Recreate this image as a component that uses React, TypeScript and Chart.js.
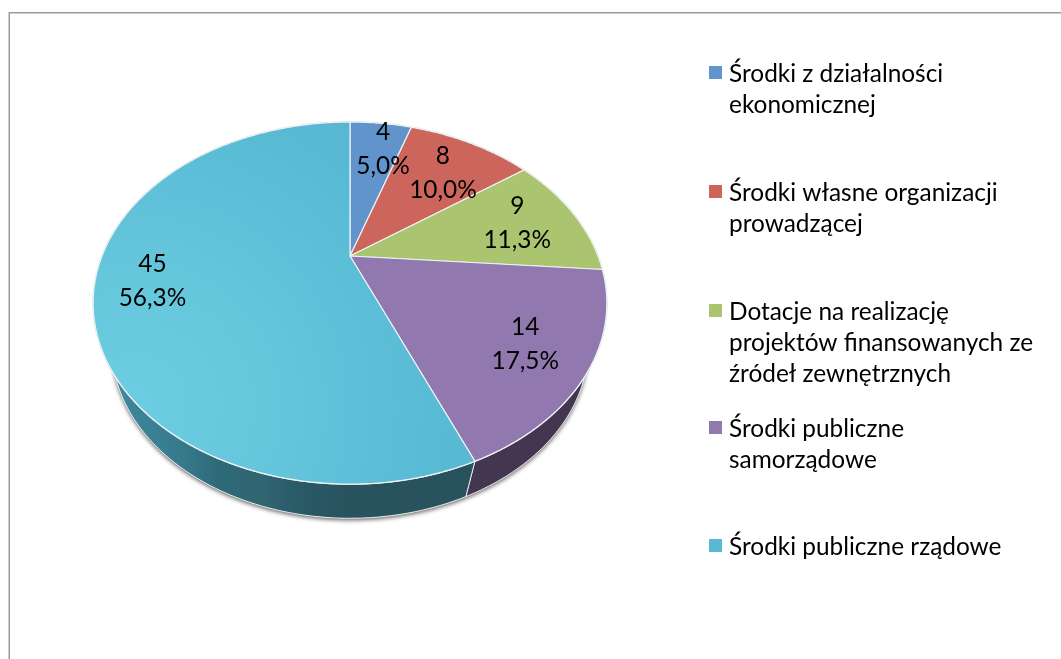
import React, { useEffect, useRef } from "react";
import { Chart, registerables } from "chart.js";

Chart.register(...registerables);

const categories = [
  "Środki z działalności ekonomicznej",
  "Środki własne organizacji prowadzącej",
  "Dotacje na realizację projektów finansowanych ze źródeł zewnętrznych",
  "Środki publiczne samorządowe",
  "Środki publiczne rządowe",
];
const legendLines = [
  ["Środki z działalności", "ekonomicznej"],
  ["Środki własne organizacji", "prowadzącej"],
  ["Dotacje na realizację", "projektów finansowanych ze", "źródeł zewnętrznych"],
  ["Środki publiczne", "samorządowe"],
  ["Środki publiczne rządowe"],
];
const values = [4, 8, 9, 14, 45];
const colors = ["#6094cb", "#cc665c", "#abc46f", "#9178af", "#58b9d3"];
const wallColors = ["#36506f", "#763a35", "#64723f", "#443650", "#28525e"];
const legendRowY = [73, 192, 311, 428, 546];
const labelNudge = [
  [10, -8],
  [4, 0],
  [8, -2],
  [18, 10],
  [-21, 1],
];

const FONT = "Lato, Carlito, Calibri, sans-serif";
const PERSPECTIVE = -0.26;
const TOP = { sx: 248 / 256, sy: 168.8 / 256, dy: 0 };
const BOTTOM = { sx: 230 / 256, sy: 160 / 256, dy: 46 };

type Face = { sx: number; sy: number; dy: number };

function project(el: any, angle: number, r: number, face: Face) {
  const ux = Math.cos(angle) * r;
  const uy = Math.sin(angle) * r;
  const d = 1 + PERSPECTIVE * uy;
  return {
    x: el.x + (el.outerRadius * face.sx * ux) / d,
    y: el.y + face.dy + (el.outerRadius * face.sy * uy) / d,
  };
}

function traceRim(ctx: CanvasRenderingContext2D, el: any, a0: number, a1: number, face: Face, first: boolean) {
  const n = Math.max(2, Math.ceil(Math.abs(a1 - a0) / 0.01));
  for (let i = 0; i <= n; i++) {
    const p = project(el, a0 + ((a1 - a0) * i) / n, 1, face);
    if (i === 0 && first) ctx.moveTo(p.x, p.y);
    else ctx.lineTo(p.x, p.y);
  }
}

const pie3d = {
  id: "pie3d",
  beforeDatasetDraw(chart: any) {
    const ctx: CanvasRenderingContext2D = chart.ctx;
    const arcs = chart.getDatasetMeta(0).data;
    const start = arcs[0].startAngle;
    const end = arcs[arcs.length - 1].endAngle;

    ctx.save();
    ctx.shadowColor = "rgba(0,0,0,0.6)";
    ctx.shadowBlur = 4;
    ctx.shadowOffsetY = 2;
    ctx.fillStyle = "#ffffff";
    ctx.beginPath();
    traceRim(ctx, arcs[0], start, end, BOTTOM, true);
    ctx.closePath();
    ctx.fill();
    ctx.restore();

    arcs.forEach((el: any, i: number) => {
      const a0 = el.startAngle;
      const a1 = el.endAngle;
      ctx.beginPath();
      traceRim(ctx, el, a0, a1, TOP, true);
      traceRim(ctx, el, a1, a0, BOTTOM, false);
      ctx.closePath();
      if (i === arcs.length - 1) {
        const g = ctx.createLinearGradient(el.x - 240, 0, el.x, 0);
        g.addColorStop(0, "#41899e");
        g.addColorStop(0.3, "#367a8c");
        g.addColorStop(0.45, "#2e6a78");
        g.addColorStop(0.62, "#306672");
        g.addColorStop(0.8, "#295a66");
        g.addColorStop(1, "#28525e");
        ctx.fillStyle = g;
      } else {
        ctx.fillStyle = wallColors[i];
      }
      ctx.fill();
      ctx.strokeStyle = "rgba(255,255,255,0.8)";
      ctx.lineWidth = 1;
      ctx.stroke();
    });

    ctx.save();
    ctx.strokeStyle = "#d6d6d6";
    ctx.lineWidth = 1.5;
    ctx.beginPath();
    traceRim(ctx, arcs[0], start, end, TOP, true);
    ctx.closePath();
    ctx.stroke();
    ctx.restore();

    arcs.forEach((el: any, i: number) => {
      ctx.beginPath();
      ctx.moveTo(el.x, el.y);
      traceRim(ctx, el, el.startAngle, el.endAngle, TOP, false);
      ctx.closePath();
      if (i === arcs.length - 1) {
        const g = ctx.createRadialGradient(el.x - 215, el.y + 150, 10, el.x - 215, el.y + 150, 420);
        g.addColorStop(0, "#6ccce1");
        g.addColorStop(0.3, "#66c6dc");
        g.addColorStop(0.5, "#5fc0d9");
        g.addColorStop(0.72, "#59bad4");
        g.addColorStop(1, "#58b3cb");
        ctx.fillStyle = g;
      } else {
        ctx.fillStyle = colors[i];
      }
      ctx.fill();
      ctx.strokeStyle = "#eef3f5";
      ctx.lineWidth = 1.2;
      ctx.stroke();
    });
    return false;
  },
  afterDraw(chart: any) {
    const ctx: CanvasRenderingContext2D = chart.ctx;
    const arcs = chart.getDatasetMeta(0).data;
    const total = values.reduce((s, v) => s + v, 0);
    ctx.save();
    ctx.fillStyle = "#000000";
    ctx.font = `24.4px ${FONT}`;
    ctx.textAlign = "center";
    ctx.textBaseline = "middle";
    arcs.forEach((el: any, i: number) => {
      const p = project(el, (el.startAngle + el.endAngle) / 2, 0.7, TOP);
      const cx = p.x + labelNudge[i][0];
      const cy = p.y + labelNudge[i][1];
      const pct = ((values[i] / total) * 100).toFixed(1).replace(".", ",") + "%";
      ctx.fillText(String(values[i]), cx, cy - 17);
      ctx.fillText(pct, cx, cy + 17);
    });

    ctx.textAlign = "left";
    legendLines.forEach((lines, i) => {
      const y = legendRowY[i];
      ctx.fillStyle = colors[i];
      ctx.fillRect(709, y - 7, 13, 13);
      ctx.fillStyle = "#000000";
      lines.forEach((line, j) => ctx.fillText(line, 729, y + 1 + j * 31));
    });
    ctx.restore();
  },
  beforeDraw(chart: any) {
    const ctx: CanvasRenderingContext2D = chart.ctx;
    ctx.save();
    ctx.fillStyle = "#ffffff";
    ctx.fillRect(0, 0, chart.width, chart.height);
    ctx.strokeStyle = "#9a9a9a";
    ctx.lineWidth = 1.5;
    ctx.strokeRect(9.25, 12.75, 1200, 800);
    ctx.restore();
  },
};

export default function App() {
  const ref = useRef<HTMLCanvasElement>(null);
  useEffect(() => {
    const chart = new Chart(ref.current!, {
      type: "pie",
      data: {
        labels: categories,
        datasets: [{ data: values, backgroundColor: colors, borderWidth: 0 }],
      },
      options: {
        responsive: false,
        animation: false,
        layout: { padding: { left: 0, top: 0, right: 361, bottom: 147 } },
        plugins: { legend: { display: false }, tooltip: { enabled: false } },
      },
      plugins: [pie3d],
    } as any);
    return () => chart.destroy();
  }, []);
  return (
    <div style={{ position: "absolute", left: 0, top: 0 }}>
      <canvas ref={ref} width={1061} height={659} style={{ display: "block" }} />
    </div>
  );
}
